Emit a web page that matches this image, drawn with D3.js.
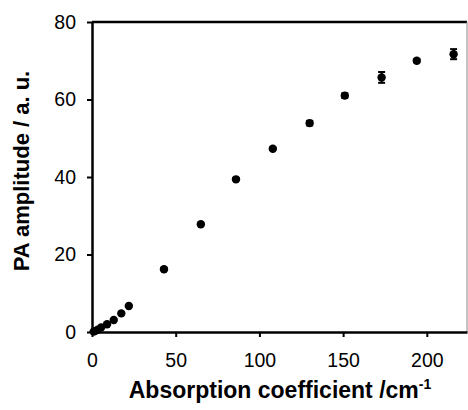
<!DOCTYPE html>
<html>
<head>
<meta charset="UTF-8">
<script src="https://cdn.jsdelivr.net/npm/d3@7"></script>
<style>
  body { margin: 0; background: #fff; }
  text { font-family: "Liberation Sans", Arial, sans-serif; fill: #000; }
</style>
</head>
<body>
<div id="chart"></div>
<script>
// data
const absorption = [1, 2, 3.5, 5.5, 9, 13, 17.5, 22, 43, 65, 86, 108, 130, 151, 173, 194, 216];
const amplitude  = [0.1, 0.3, 0.6, 1.2, 2.0, 3.1, 4.8, 6.7, 16.2, 27.8, 39.4, 47.3, 53.9, 61.0, 65.7, 70.0, 71.7];
const errors     = [0, 0, 0, 0, 0, 0, 0, 0, 0.3, 0.3, 0.3, 0.3, 0.6, 0.6, 1.4, 0.4, 1.3];
const xTicks = [0, 50, 100, 150, 200];
const yTicks = [0, 20, 40, 60, 80];

const w = 468, h = 410;
const margin = { left: 92, right: 1, top: 22, bottom: 78 };

const svg = d3.select("#chart").append("svg")
  .attr("width", w).attr("height", h);

const x = d3.scaleLinear().domain([0, 224]).range([margin.left, w - margin.right]);
const y = d3.scaleLinear().domain([0, 80]).range([h - margin.bottom, margin.top]);

// frame: top and right
svg.append("line")
  .attr("x1", x(0)).attr("x2", x(224)).attr("y1", y(80)).attr("y2", y(80))
  .attr("stroke", "#000").attr("stroke-width", 2.5);
svg.append("line")
  .attr("x1", x(224)).attr("x2", x(224)).attr("y1", y(80)).attr("y2", y(0))
  .attr("stroke", "#888").attr("stroke-width", 1);

// axes
const xAxis = svg.append("g")
  .attr("transform", "translate(0," + y(0) + ")")
  .call(d3.axisBottom(x).tickValues(xTicks).tickSize(5).tickSizeOuter(0).tickPadding(16));
const yAxis = svg.append("g")
  .attr("transform", "translate(" + x(0) + ",0)")
  .call(d3.axisLeft(y).tickValues(yTicks).tickSize(5).tickSizeOuter(0).tickPadding(11));

[xAxis, yAxis].forEach(g => {
  g.select(".domain").attr("stroke", "#000").attr("stroke-width", 2.5);
  g.selectAll(".tick line").attr("stroke", "#000").attr("stroke-width", 2);
  g.selectAll(".tick text").style("font-size", "19.5px")
    .style("font-family", "'Liberation Sans', Arial, sans-serif");
});

// error bars
const pts = absorption.map((d, i) => ({ x: d, y: amplitude[i], e: errors[i] }));
const eb = svg.append("g").selectAll("g").data(pts.filter(d => d.e > 0)).enter().append("g");
eb.append("line")
  .attr("x1", d => x(d.x)).attr("x2", d => x(d.x))
  .attr("y1", d => y(d.y - d.e)).attr("y2", d => y(d.y + d.e))
  .attr("stroke", "#000").attr("stroke-width", 2);
eb.selectAll(".cap").data(d => [[d.x, d.y - d.e], [d.x, d.y + d.e]]).enter().append("line")
  .attr("x1", d => x(d[0]) - 3.5).attr("x2", d => x(d[0]) + 3.5)
  .attr("y1", d => y(d[1])).attr("y2", d => y(d[1]))
  .attr("stroke", "#000").attr("stroke-width", 2);

// points
svg.append("g").selectAll("circle").data(pts).enter().append("circle")
  .attr("cx", d => x(d.x)).attr("cy", d => y(d.y)).attr("r", 4.2)
  .attr("fill", "#000");

// axis titles
const xt = svg.append("text")
  .attr("x", 280).attr("y", 398)
  .attr("text-anchor", "middle")
  .style("font-size", "23px").style("font-weight", "bold");
xt.append("tspan").text("Absorption coefficient /cm");
xt.append("tspan").attr("dy", -9).style("font-size", "14px").text("-1");

svg.append("text")
  .attr("transform", "translate(29," + 171 + ") rotate(-90)")
  .attr("text-anchor", "middle")
  .style("font-size", "22px").style("font-weight", "bold")
  .text("PA amplitude / a. u.");
</script>
</body>
</html>
